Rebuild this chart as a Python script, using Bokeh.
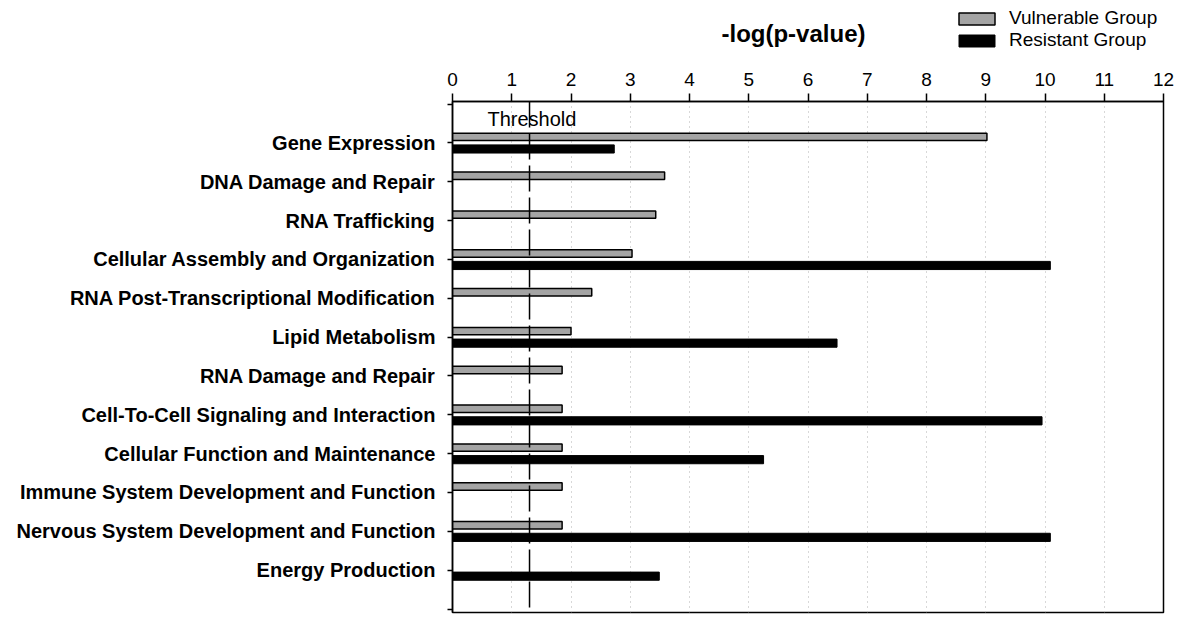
from bokeh.plotting import figure
from bokeh.layouts import column
from bokeh.models import (Range1d, FixedTicker, Label, Legend, LegendItem, Span)
from bokeh.embed import file_html
from bokeh.resources import INLINE

categories = [
    "Gene Expression",
    "DNA Damage and Repair",
    "RNA Trafficking",
    "Cellular Assembly and Organization",
    "RNA Post-Transcriptional Modification",
    "Lipid Metabolism",
    "RNA Damage and Repair",
    "Cell-To-Cell Signaling and Interaction",
    "Cellular Function and Maintenance",
    "Immune System Development and Function",
    "Nervous System Development and Function",
    "Energy Production",
]
vulnerable = [9.02, 3.58, 3.43, 3.03, 2.35, 2.0, 1.85, 1.85, 1.85, 1.85, 1.85, None]
resistant = [2.73, None, None, 10.09, None, 6.49, None, 9.95, 5.25, None, 10.09, 3.49]
threshold = 1.3
x_ticks = list(range(0, 13))
series_names = ["Vulnerable Group", "Resistant Group"]
title_text = "-log(p-value)"

FONT = "Liberation Sans"
GRAY = "#a4a4a4"
W = 1188
HEAD_H = 55
OFF = 40

x_range = Range1d(0, 12)

vy = [i + 1 - 0.155 for i, v in enumerate(vulnerable) if v is not None]
vv = [v for v in vulnerable if v is not None]
ry = [i + 1 + 0.155 for i, v in enumerate(resistant) if v is not None]
rv = [v for v in resistant if v is not None]

# ---------- header (title + legend) ----------
head = figure(width=W, height=HEAD_H, output_backend="svg", toolbar_location=None,
              x_range=x_range, y_range=Range1d(-HEAD_H - OFF, -OFF),
              x_axis_type=None, y_axis_type=None,
              min_border_left=452, min_border_right=25,
              min_border_top=0, min_border_bottom=0)
head.outline_line_color = None
head.xgrid.visible = False
head.ygrid.visible = False
head.add_layout(Label(x=5.755, y=-OFF - 33, text=title_text, text_font=FONT,
                      text_font_size="24px", text_font_style="bold", text_align="center",
                      text_baseline="middle", text_color="black"))
# series kept hidden here: they only provide the legend keys
d_v = head.hbar(y=vy, left=0, right=vv, height=0.19, fill_color=GRAY,
                line_color="black", line_width=1.5, visible=False)
d_r = head.hbar(y=ry, left=0, right=rv, height=0.21, fill_color="black",
                line_color="black", line_width=1, visible=False)
legend = Legend(items=[LegendItem(label=series_names[0], renderers=[d_v]),
                       LegendItem(label=series_names[1], renderers=[d_r])],
                location=(502, 4), padding=0, margin=0, spacing=0,
                glyph_width=45, glyph_height=15, label_height=15,
                label_standoff=10, label_text_font=FONT, label_text_font_size="19px",
                label_text_color="black", border_line_color=None,
                background_fill_alpha=0, inactive_fill_alpha=0,
                click_policy="none")
head.add_layout(legend)

# ---------- main chart ----------
p = figure(width=W, height=577, output_backend="svg", toolbar_location=None,
           x_axis_location="above",
           x_range=x_range, y_range=Range1d(13.09, -0.067),
           min_border_left=452, min_border_right=25, min_border_top=46, min_border_bottom=20)
p.outline_line_color = "black"
p.outline_line_width = 1.5

p.hbar(y=vy, left=0, right=vv, height=0.19, fill_color=GRAY,
       line_color="black", line_width=1.5)
p.hbar(y=ry, left=0, right=rv, height=0.21, fill_color="black",
       line_color="black", line_width=1)

p.add_layout(Span(location=threshold, dimension="height", line_color="black",
                  line_width=1.5, line_dash="26 6"))
p.add_layout(Label(x=1.34, y=0.38, text="Threshold", text_font=FONT,
                   text_font_size="20px", text_align="center", text_baseline="middle",
                   text_color="black"))

xa = p.xaxis[0]
xa.ticker = FixedTicker(ticks=x_ticks)
xa.minor_tick_line_color = None
xa.major_tick_out = 8
xa.major_tick_in = 0
xa.major_tick_line_width = 1.5
xa.axis_line_width = 1.5
xa.major_label_text_font = FONT
xa.major_label_text_font_size = "19px"
xa.major_label_text_color = "black"
xa.major_label_standoff = 8

ya = p.yaxis[0]
ya.ticker = FixedTicker(ticks=list(range(0, len(categories) + 2)))
overrides = {0: "", len(categories) + 1: ""}
for i, c in enumerate(categories):
    overrides[i + 1] = c
ya.major_label_overrides = overrides
ya.minor_tick_line_color = None
ya.major_tick_out = 5
ya.major_tick_in = 0
ya.major_tick_line_width = 1.5
ya.axis_line_width = 1.5
ya.major_label_text_font = FONT
ya.major_label_text_font_size = "20px"
ya.major_label_text_font_style = "bold"
ya.major_label_text_color = "black"
ya.major_label_standoff = 12

p.ygrid.visible = False
p.xgrid.ticker = FixedTicker(ticks=x_ticks[1:-1])
p.xgrid.grid_line_color = "#b0b0b0"
p.xgrid.grid_line_dash = "1 4"
p.xgrid.grid_line_width = 1

layout = column(head, p, spacing=0)
open("out.html", "w").write(file_html(layout, INLINE))
